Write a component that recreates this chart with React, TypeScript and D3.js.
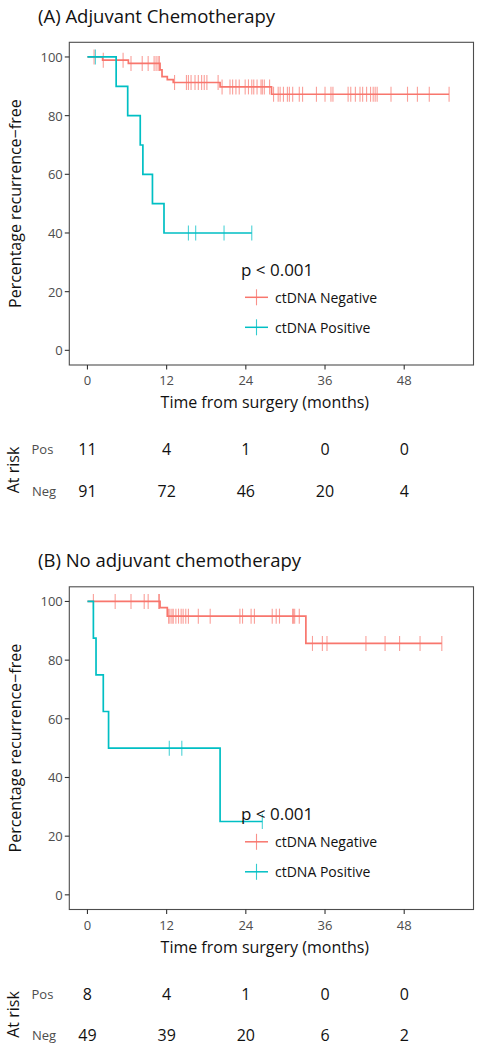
import React from "react";
import * as d3 from "d3";

// ---------- data ----------
const xTicks = [0, 12, 24, 36, 48];
const yTicks = [0, 20, 40, 60, 80, 100];
const seriesNames = ["ctDNA Negative", "ctDNA Positive"];
const pValueText = "p < 0.001";

// Panel A: adjuvant chemotherapy
const aNegTimes = [0, 2.3, 6.2, 11.0, 11.3, 12.1, 13.0, 20.1, 27.9];
const aNegSurv = [100, 98.9, 97.8, 95.6, 93.3, 92.3, 91.3, 89.8, 87.3];
const aNegEnd = 54.8;
const aNegCensor = [
  1.0, 2.4, 5.4, 6.6, 8.3, 9.2, 10.1, 10.4, 10.7, 10.9,
  13.2, 15.0, 15.3, 15.7, 16.3, 16.8, 17.3, 17.7, 18.1, 19.8,
  20.4, 21.6, 22.0, 22.5, 23.0, 23.9, 24.4, 24.9, 25.2, 25.7, 26.3, 26.5, 26.8, 27.6,
  28.2, 28.9, 29.2, 29.7, 30.3, 30.6, 31.1, 32.1, 32.6, 34.7, 36.0, 36.9, 37.2, 39.5,
  39.9, 40.6, 41.3, 41.7, 42.3, 42.9, 43.3, 43.6, 43.9, 46.0, 48.5, 50.0, 51.8, 54.8,
];
const aPosTimes = [0, 4.35, 6.1, 8.0, 8.4, 9.85, 11.6];
const aPosSurv = [100, 90, 80, 70, 60, 50, 40];
const aPosEnd = 24.9;
const aPosCensor = [1.2, 15.3, 16.4, 20.7, 24.9];
const aRiskPos = [11, 4, 1, 0, 0];
const aRiskNeg = [91, 72, 46, 20, 4];

// Panel B: no adjuvant chemotherapy
const bNegTimes = [0, 11.0, 12.1, 33.1];
const bNegSurv = [100, 97.9, 95.0, 85.7];
const bNegEnd = 53.7;
const bNegCensor = [
  0.9, 4.2, 6.6, 8.6, 9.2, 10.8, 10.9,
  12.3, 12.5, 12.8, 13.0, 13.4, 13.8, 14.2, 14.5, 14.9, 15.3, 16.8, 18.6,
  23.1, 23.5, 24.8, 25.3, 28.0, 28.6, 29.1, 31.1, 31.2, 31.4, 32.1,
  34.1, 35.6, 36.3, 42.2, 45.1, 47.3, 50.4, 53.7,
];
const bPosTimes = [0, 0.9, 1.3, 2.4, 3.2, 20.1];
const bPosSurv = [100, 87.5, 75, 62.5, 50, 25];
const bPosEnd = 26.5;
const bPosCensor = [12.4, 14.3, 26.5];
const bRiskPos = [8, 4, 1, 0, 0];
const bRiskNeg = [49, 39, 20, 6, 2];

// ---------- style ----------
const RED = "#F8766D";
const TEAL = "#00BFC4";
const FONT = "'Open Sans', 'DejaVu Sans', sans-serif";

type PanelProps = {
  top: number;
  title: string;
  negTimes: number[];
  negSurv: number[];
  negEnd: number;
  negCensor: number[];
  posTimes: number[];
  posSurv: number[];
  posEnd: number;
  posCensor: number[];
  riskPos: number[];
  riskNeg: number[];
};

function survAt(times: number[], surv: number[], t: number) {
  let v = surv[0];
  for (let i = 0; i < times.length; i++) if (times[i] <= t) v = surv[i];
  return v;
}

function Panel(p: PanelProps) {
  const boxTop = 42.3;
  const boxBottom = 365;
  const boxLeft = 69.3;
  const boxRight = 473.5;
  const x = d3.scaleLinear().domain([-2.75, 58.5]).range([boxLeft, boxRight]);
  const y = d3.scaleLinear().domain([-5, 105]).range([boxBottom, boxTop]);
  const line = d3
    .line<[number, number]>()
    .x((d) => x(d[0]))
    .y((d) => y(d[1]))
    .curve(d3.curveStepAfter);

  const mkPts = (times: number[], surv: number[], end: number): [number, number][] => {
    const pts: [number, number][] = times.map((t, i) => [t, surv[i]]);
    pts.push([end, surv[surv.length - 1]]);
    return pts;
  };

  const groups = [
    { color: RED, times: p.negTimes, surv: p.negSurv, end: p.negEnd, censor: p.negCensor },
    { color: TEAL, times: p.posTimes, surv: p.posSurv, end: p.posEnd, censor: p.posCensor },
  ];

  const legendX = 256.5;
  const legendYs = [297.3, 327.3];

  return (
    <g transform={`translate(0,${p.top})`} fontFamily={FONT}>
      <text x={38} y={15} dominantBaseline="central" fontSize={18.5} fill="#111">
        {p.title}
      </text>
      {/* y axis title */}
      <text
        transform={`translate(15,${(boxTop + boxBottom) / 2}) rotate(-90)`}
        textAnchor="middle"
        dominantBaseline="central"
        fontSize={16}
        fill="#111"
      >
        Percentage recurrence−free
      </text>
      {/* curves */}
      {groups.map((g, gi) => (
        <g key={gi}>
          <path d={line(mkPts(g.times, g.surv, g.end)) || ""} fill="none" stroke={g.color} strokeWidth={1.7} />
          {g.censor.map((c, ci) => {
            const yy = y(survAt(g.times, g.surv, c));
            return (
              <line
                key={ci}
                x1={x(c)}
                x2={x(c)}
                y1={yy - 7.5}
                y2={yy + 7.5}
                stroke={g.color}
                strokeOpacity={0.7}
                strokeWidth={1.1}
              />
            );
          })}
        </g>
      ))}
      {/* box */}
      <rect
        x={boxLeft}
        y={boxTop}
        width={boxRight - boxLeft}
        height={boxBottom - boxTop}
        fill="none"
        stroke="#4d4d4d"
        strokeWidth={1.1}
      />
      {/* y ticks */}
      {yTicks.map((t) => (
        <g key={t}>
          <line x1={boxLeft - 4.5} x2={boxLeft} y1={y(t)} y2={y(t)} stroke="#333" strokeWidth={1.1} />
          <text x={boxLeft - 6.5} y={y(t)} textAnchor="end" dominantBaseline="central" fontSize={13} fill="#4d4d4d">
            {t}
          </text>
        </g>
      ))}
      {/* x ticks */}
      {xTicks.map((t) => (
        <g key={t}>
          <line x1={x(t)} x2={x(t)} y1={boxBottom} y2={boxBottom + 4.5} stroke="#333" strokeWidth={1.1} />
          <text x={x(t)} y={380} textAnchor="middle" dominantBaseline="central" fontSize={13} fill="#4d4d4d">
            {t}
          </text>
        </g>
      ))}
      <text x={x(24) + 19} y={402} textAnchor="middle" dominantBaseline="central" fontSize={16} fill="#111">
        Time from surgery (months)
      </text>
      {/* p value and legend */}
      <text x={241} y={269.3} dominantBaseline="central" fontSize={17} fill="#111">
        {pValueText}
      </text>
      {seriesNames.map((n, i) => (
        <g key={n}>
          <line x1={legendX - 11.5} x2={legendX + 11.5} y1={legendYs[i]} y2={legendYs[i]} stroke={groups[i].color} strokeWidth={1.5} />
          <line x1={legendX} x2={legendX} y1={legendYs[i] - 8} y2={legendYs[i] + 8} stroke={groups[i].color} strokeWidth={1.1} strokeOpacity={0.8} />
          <text x={275} y={legendYs[i]} dominantBaseline="central" fontSize={14} fill="#111">
            {n}
          </text>
        </g>
      ))}
      {/* risk table */}
      <text
        transform={`translate(13,470) rotate(-90)`}
        textAnchor="middle"
        dominantBaseline="central"
        fontSize={16}
        fill="#111"
      >
        At risk
      </text>
      <text x={31.5} y={449} dominantBaseline="central" fontSize={13} fill="#4d4d4d">
        Pos
      </text>
      <text x={32} y={490.7} dominantBaseline="central" fontSize={13} fill="#4d4d4d">
        Neg
      </text>
      {xTicks.map((t, i) => (
        <g key={t}>
          <text x={x(t)} y={449} textAnchor="middle" dominantBaseline="central" fontSize={16} fill="#111">
            {p.riskPos[i]}
          </text>
          <text x={x(t)} y={490.7} textAnchor="middle" dominantBaseline="central" fontSize={16} fill="#111">
            {p.riskNeg[i]}
          </text>
        </g>
      ))}
    </g>
  );
}

export default function App() {
  React.useEffect(() => {
    document.body.style.margin = "0";
  }, []);
  return (
    <svg width={482} height={1050} style={{ display: "block", background: "#fff" }}>
      <rect width={482} height={1050} fill="#fff" />
      <Panel
        top={0}
        title="(A) Adjuvant Chemotherapy"
        negTimes={aNegTimes}
        negSurv={aNegSurv}
        negEnd={aNegEnd}
        negCensor={aNegCensor}
        posTimes={aPosTimes}
        posSurv={aPosSurv}
        posEnd={aPosEnd}
        posCensor={aPosCensor}
        riskPos={aRiskPos}
        riskNeg={aRiskNeg}
      />
      <Panel
        top={544.5}
        title="(B) No adjuvant chemotherapy"
        negTimes={bNegTimes}
        negSurv={bNegSurv}
        negEnd={bNegEnd}
        negCensor={bNegCensor}
        posTimes={bPosTimes}
        posSurv={bPosSurv}
        posEnd={bPosEnd}
        posCensor={bPosCensor}
        riskPos={bRiskPos}
        riskNeg={bRiskNeg}
      />
    </svg>
  );
}
